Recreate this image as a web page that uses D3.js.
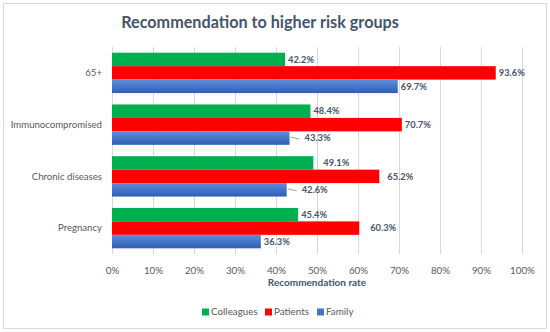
<!DOCTYPE html>
<html>
<head>
<meta charset="utf-8">
<script src="https://cdn.jsdelivr.net/npm/d3@7"></script>
<style>
  body { margin: 0; background: #fff; }
  text { font-family: Lato, "Open Sans", sans-serif; }
</style>
</head>
<body>
<div id="chart"></div>
<script>
// Categories (top to bottom) and series
const categories = ["65+", "Immunocompromised", "Chronic diseases", "Pregnancy"]
const seriesNames = ["Colleagues", "Patients", "Family"]
const colleagues = [42.2, 48.4, 49.1, 45.4]
const patients = [93.6, 70.7, 65.2, 60.3]
const family = [69.7, 43.3, 42.6, 36.3]
const xTicks = [0, 10, 20, 30, 40, 50, 60, 70, 80, 90, 100]

const seriesColors = { Colleagues: "#00b050", Patients: "#ff0000", Family: "#4472c4" }

// Labels that Excel pushed to the right (leader line when far)
const labelNudge = { "Family|Immunocompromised": 12, "Family|Chronic diseases": 12,
    "Colleagues|Chronic diseases": 7, "Patients|Chronic diseases": 5, "Patients|Pregnancy": 8 }

const width = 550, height = 332
const margin = { top: 47, right: 28, bottom: 78, left: 112 }
const innerW = width - margin.left - margin.right
const innerH = height - margin.top - margin.bottom

const svg = d3.select("#chart").append("svg")
    .attr("width", width)
    .attr("height", height)

// Chart frame
svg.append("rect")
    .attr("x", 3.5).attr("y", 3.5)
    .attr("width", width - 7).attr("height", height - 7)
    .attr("fill", "#fff")
    .attr("stroke", "#d9d9d9")

// Gradient for the Family bars
const grad = svg.append("defs").append("linearGradient")
    .attr("id", "blueGrad").attr("x1", 0).attr("y1", 0).attr("x2", 0).attr("y2", 1)
grad.append("stop").attr("offset", "0%").attr("stop-color", "#5f8ede")
grad.append("stop").attr("offset", "100%").attr("stop-color", "#2f5db3")

// Title
svg.append("text")
    .attr("x", 260).attr("y", 28)
    .attr("text-anchor", "middle")
    .attr("font-size", 16.2)
    .attr("font-weight", "bold")
    .attr("fill", "#44546a")
    .text("Recommendation to higher risk groups")

const g = svg.append("g").attr("transform", `translate(${margin.left},${margin.top})`)

const xScale = d3.scaleLinear().domain([0, 100]).range([0, innerW])
const yScale = d3.scaleBand().domain(categories).range([0, innerH]).paddingInner(0.22).paddingOuter(0.11)
const ySub = d3.scaleBand().domain(seriesNames).range([0, yScale.bandwidth()])

// Gridlines
g.append("g")
    .selectAll("line")
    .data(xTicks)
    .enter()
    .append("line")
    .attr("x1", d => xScale(d) + 0.5).attr("x2", d => xScale(d) + 0.5)
    .attr("y1", 0).attr("y2", innerH)
    .attr("stroke", "#d9d9d9")
    .attr("stroke-width", 1)

const rows = []
categories.forEach((c, i) => {
    rows.push({ series: "Colleagues", category: c, value: colleagues[i] })
    rows.push({ series: "Patients", category: c, value: patients[i] })
    rows.push({ series: "Family", category: c, value: family[i] })
})

// Bars
g.append("g")
    .selectAll("rect")
    .data(rows)
    .enter()
    .append("rect")
    .attr("x", 0)
    .attr("y", d => yScale(d.category) + ySub(d.series))
    .attr("width", d => xScale(d.value))
    .attr("height", ySub.bandwidth())
    .attr("fill", d => d.series === "Family" ? "url(#blueGrad)" : seriesColors[d.series])

// Leader lines for nudged labels
g.append("g")
    .selectAll("line")
    .data(rows.filter(d => (labelNudge[d.series + "|" + d.category] || 0) > 10))
    .enter()
    .append("line")
    .attr("x1", d => xScale(d.value) + 1)
    .attr("x2", d => xScale(d.value) + labelNudge[d.series + "|" + d.category] - 2)
    .attr("y1", d => yScale(d.category) + ySub(d.series) + ySub.bandwidth() / 2 - 1)
    .attr("y2", d => yScale(d.category) + ySub(d.series) + ySub.bandwidth() / 2 + 1)
    .attr("stroke", "#a6a6a6")

// Data labels
g.append("g")
    .selectAll("text")
    .data(rows)
    .enter()
    .append("text")
    .attr("x", d => xScale(d.value) + 3 + (labelNudge[d.series + "|" + d.category] || 0))
    .attr("y", d => yScale(d.category) + ySub(d.series) + ySub.bandwidth() / 2)
    .attr("dy", "0.35em")
    .attr("font-size", 9.3)
    .attr("font-weight", "bold")
    .attr("fill", "#44546a")
    .text(d => d.value.toFixed(1) + "%")

// Category axis labels
g.append("g")
    .selectAll("text")
    .data(categories)
    .enter()
    .append("text")
    .attr("x", -10)
    .attr("y", d => yScale(d) + yScale.bandwidth() / 2)
    .attr("dy", "0.35em")
    .attr("text-anchor", "end")
    .attr("font-size", 9.6)
    .attr("fill", "#595959")
    .text(d => d)

// X axis
const xAxis = g.append("g")
    .attr("transform", `translate(0,${innerH})`)
    .call(d3.axisBottom(xScale).tickValues(xTicks).tickSize(0).tickPadding(13).tickFormat(d => d + "%"))
xAxis.select(".domain").remove()
xAxis.selectAll("text")
    .attr("font-size", 9.8)
    .attr("fill", "#595959")
    .style("font-family", "Lato, 'Open Sans', sans-serif")

// X axis title
svg.append("text")
    .attr("x", margin.left + xScale(50))
    .attr("y", 286)
    .attr("text-anchor", "middle")
    .attr("font-size", 10)
    .attr("font-weight", "bold")
    .attr("fill", "#44546a")
    .text("Recommendation rate")

// Legend
const legendX = [202, 265, 317]
const legend = svg.append("g")
    .selectAll("g")
    .data(seriesNames)
    .enter()
    .append("g")
    .attr("transform", (d, i) => `translate(${legendX[i]},312)`)
legend.append("rect")
    .attr("x", 0).attr("y", -3.5)
    .attr("width", 7).attr("height", 7)
    .attr("fill", d => seriesColors[d])
legend.append("text")
    .attr("x", 9).attr("y", 0)
    .attr("dy", "0.35em")
    .attr("font-size", 9.8)
    .attr("fill", "#595959")
    .text(d => d)
</script>
</body>
</html>
